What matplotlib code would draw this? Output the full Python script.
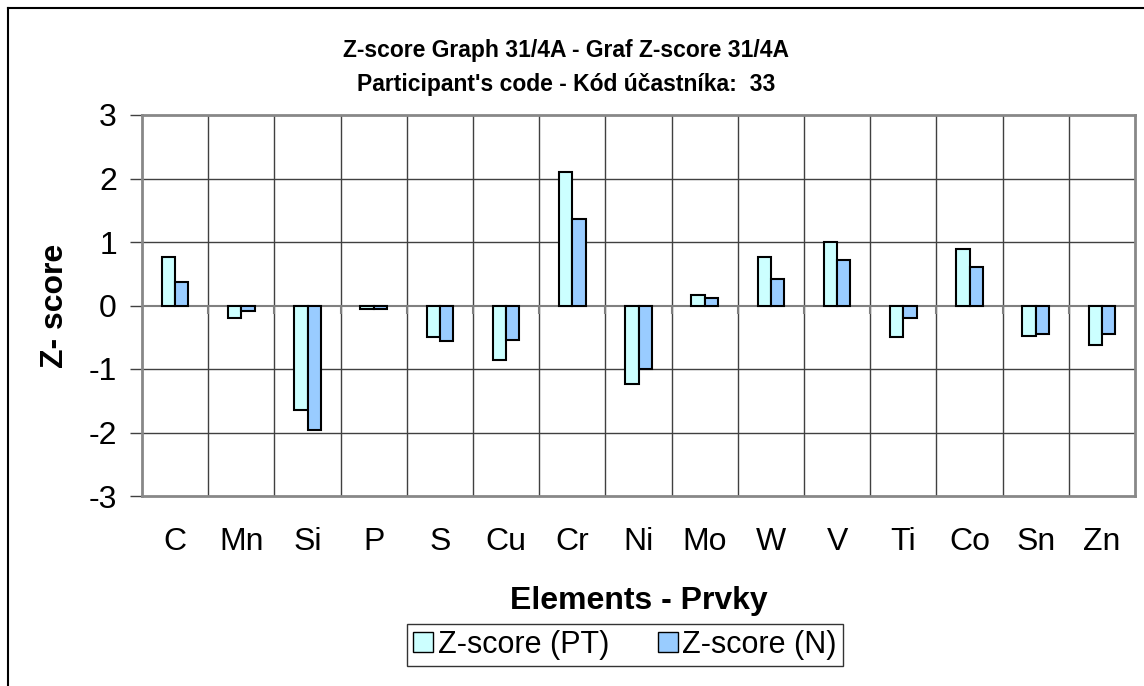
import matplotlib
matplotlib.use("Agg")
import matplotlib.pyplot as plt
from matplotlib.lines import Line2D
from matplotlib.patches import Patch
import numpy as np

plt.rcParams['font.family'] = ['Liberation Sans', 'DejaVu Sans']

elements = ["C", "Mn", "Si", "P", "S", "Cu", "Cr", "Ni", "Mo", "W", "V", "Ti", "Co", "Sn", "Zn"]
z_pt = [0.77, -0.20, -1.65, -0.05, -0.50, -0.86, 2.11, -1.23, 0.17, 0.76, 1.00, -0.50, 0.89, -0.48, -0.62]
z_n = [0.37, -0.08, -1.96, -0.05, -0.56, -0.54, 1.36, -1.00, 0.12, 0.42, 0.71, -0.20, 0.61, -0.45, -0.45]
series_names = ["Z-score (PT)", "Z-score (N)"]
colors = ["#CCFFFF", "#99CCFF"]
yticks = [-3, -2, -1, 0, 1, 2, 3]

W, H = 1144, 686
fig = plt.figure(figsize=(W / 100, H / 100), dpi=100)

# outer chart frame (left and top edges)
fig.add_artist(Line2D([8 / W, 8 / W], [0, 1 - 8 / H], transform=fig.transFigure, color="black", lw=1.5))
fig.add_artist(Line2D([8 / W, 1], [1 - 8 / H, 1 - 8 / H], transform=fig.transFigure, color="black", lw=1.5))

left, right, top, bottom = 142, 1135, 115, 496
ax = fig.add_axes([left / W, (H - bottom) / H, (right - left) / W, (bottom - top) / H])

x = np.arange(len(elements))
bw = 0.2
ax.bar(x - bw / 2, z_pt, width=bw, color=colors[0], edgecolor="black", linewidth=1.5, zorder=3)
ax.bar(x + bw / 2, z_n, width=bw, color=colors[1], edgecolor="black", linewidth=1.5, zorder=3)

ax.set_xlim(-0.5, len(elements) - 0.5)
ax.set_ylim(-3, 3)
ax.set_yticks(yticks)
ax.set_yticklabels([str(v) for v in yticks], fontsize=23)
ax.tick_params(axis="y", direction="out", length=9, width=1, color="#404040", pad=9)

ax.set_xticks(x)
ax.set_xticklabels(elements, fontsize=23)
ax.tick_params(axis="x", length=0, pad=22)

# grid: horizontal at integer values, vertical between categories
bounds = np.arange(0.5, len(elements) - 0.5, 1)
for v in yticks[1:-1]:
    if v != 0:
        ax.axhline(v, color="#404040", lw=1, zorder=1)
for b in bounds:
    ax.axvline(b, color="#404040", lw=1, zorder=1)

for s in ax.spines.values():
    s.set_color("#888888")
    s.set_linewidth(2)

# category axis crossing at zero, with short boundary ticks below it
ax.axhline(0, color="#808080", lw=1.5, zorder=2)
ax.vlines(bounds, -0.14, 0, color="#808080", lw=1.5, zorder=2)

ax.set_xlabel("Elements - Prvky", fontsize=23, fontweight="bold", labelpad=21)
ax.set_ylabel("Z- score", fontsize=23, fontweight="bold", labelpad=13)

fig.text(566 / W, 1 - 50 / H, "Z-score Graph 31/4A - Graf Z-score 31/4A",
         ha="center", va="center", fontsize=16.5, fontweight="bold")
fig.text(566 / W, 1 - 85 / H, "Participant's code - Kód účastníka:  33",
         ha="center", va="center", fontsize=16.5, fontweight="bold")

handles = [Patch(facecolor=colors[0], edgecolor="black", linewidth=1),
           Patch(facecolor=colors[1], edgecolor="black", linewidth=1)]
leg = fig.legend(handles, series_names, loc="center", bbox_to_anchor=(625 / W, 1 - 645 / H),
                 ncol=2, fontsize=22, frameon=True, fancybox=False, handlelength=0.65,
                 handleheight=0.65, handletextpad=0.15, columnspacing=1.6, borderpad=0.2,
                 borderaxespad=0.0)
leg.get_frame().set_edgecolor("black")
leg.get_frame().set_linewidth(1)

fig.savefig("out.png", dpi=100)
